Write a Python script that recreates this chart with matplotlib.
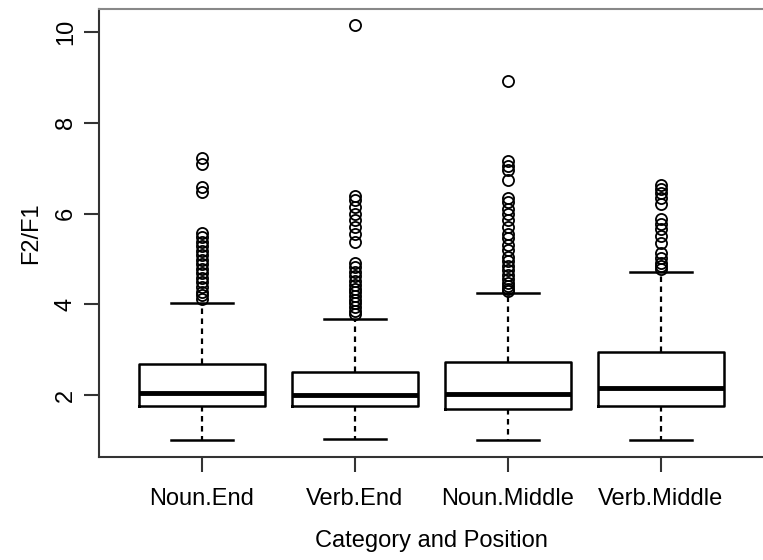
import matplotlib
matplotlib.use("Agg")
import matplotlib.pyplot as plt

plt.rcParams['font.family'] = ['Liberation Sans', 'DejaVu Sans']

# box statistics
categories = ['Noun.End', 'Verb.End', 'Noun.Middle', 'Verb.Middle']
whisker_low = [1.00, 1.02, 1.00, 1.00]
q1 = [1.75, 1.75, 1.70, 1.75]
medians = [2.05, 2.00, 2.03, 2.15]
q3 = [2.68, 2.50, 2.72, 2.95]
whisker_high = [4.03, 3.67, 4.25, 4.72]

outliers_noun_end = [7.22, 7.10, 6.58, 6.48, 5.58, 5.48, 5.38, 5.28, 5.18, 5.08,
                     4.98, 4.88, 4.78, 4.68, 4.58, 4.48, 4.38, 4.28, 4.20, 4.12]
outliers_verb_end = [10.15, 6.38, 6.30, 6.15, 6.00, 5.85, 5.70, 5.55, 5.38,
                     4.92, 4.82, 4.72, 4.62, 4.52, 4.42, 4.34, 4.26, 4.18,
                     4.10, 4.02, 3.94, 3.86, 3.78]
outliers_noun_middle = [8.93, 7.15, 7.05, 6.95, 6.75, 6.35, 6.25, 6.10, 6.00,
                        5.85, 5.70, 5.55, 5.45, 5.30, 5.20, 5.05, 4.95, 4.85,
                        4.75, 4.65, 4.55, 4.47, 4.40, 4.34, 4.29]
outliers_verb_middle = [6.62, 6.55, 6.45, 6.35, 6.22, 5.88, 5.78, 5.65, 5.50,
                        5.35, 5.12, 5.02, 4.92, 4.84, 4.77]
outliers = [outliers_noun_end, outliers_verb_end, outliers_noun_middle, outliers_verb_middle]

stats = []
for i, name in enumerate(categories):
    stats.append({
        'label': name,
        'whislo': whisker_low[i],
        'q1': q1[i],
        'med': medians[i],
        'q3': q3[i],
        'whishi': whisker_high[i],
        'fliers': outliers[i],
    })

fig = plt.figure(figsize=(7.63, 5.60), dpi=100)
# plot region runs off the right edge of the picture, as in the reference
ax = fig.add_axes([99 / 763, 0.184, 664 / 763, 0.80])

ax.bxp(stats, positions=[1, 2, 3, 4], widths=0.82,
       boxprops=dict(color='black', linewidth=1.8),
       medianprops=dict(color='black', linewidth=3.5, solid_capstyle='butt'),
       whiskerprops=dict(color='black', linewidth=1.6, linestyle=(0, (2.5, 2))),
       capprops=dict(color='black', linewidth=1.8),
       flierprops=dict(marker='o', markersize=8, markerfacecolor='none',
                       markeredgecolor='black', markeredgewidth=1.3),
       capwidths=0.4)

ax.set_xlim(0.327, 4.667)
ax.set_ylim(0.634, 10.51)
ax.set_yticks([2, 4, 6, 8, 10])
ax.set_xticks([1, 2, 3, 4])
ax.set_xticklabels(categories)

for lbl in ax.get_yticklabels():
    lbl.set_rotation(90)
    lbl.set_verticalalignment('center')

ax.tick_params(axis='both', labelsize=17, length=11, width=1.5, color='#333333')
ax.tick_params(axis='y', pad=5)
ax.tick_params(axis='x', pad=11)

ax.spines['right'].set_visible(False)
ax.spines['top'].set_color('#888888')
for s in ['left', 'bottom', 'top']:
    ax.spines[s].set_linewidth(1.5)
ax.spines['left'].set_color('#333333')
ax.spines['bottom'].set_color('#333333')

ax.set_ylabel('F2/F1', fontsize=17, labelpad=9)
ax.set_xlabel('Category and Position', fontsize=17, labelpad=15)

fig.savefig('out.png', dpi=100)
